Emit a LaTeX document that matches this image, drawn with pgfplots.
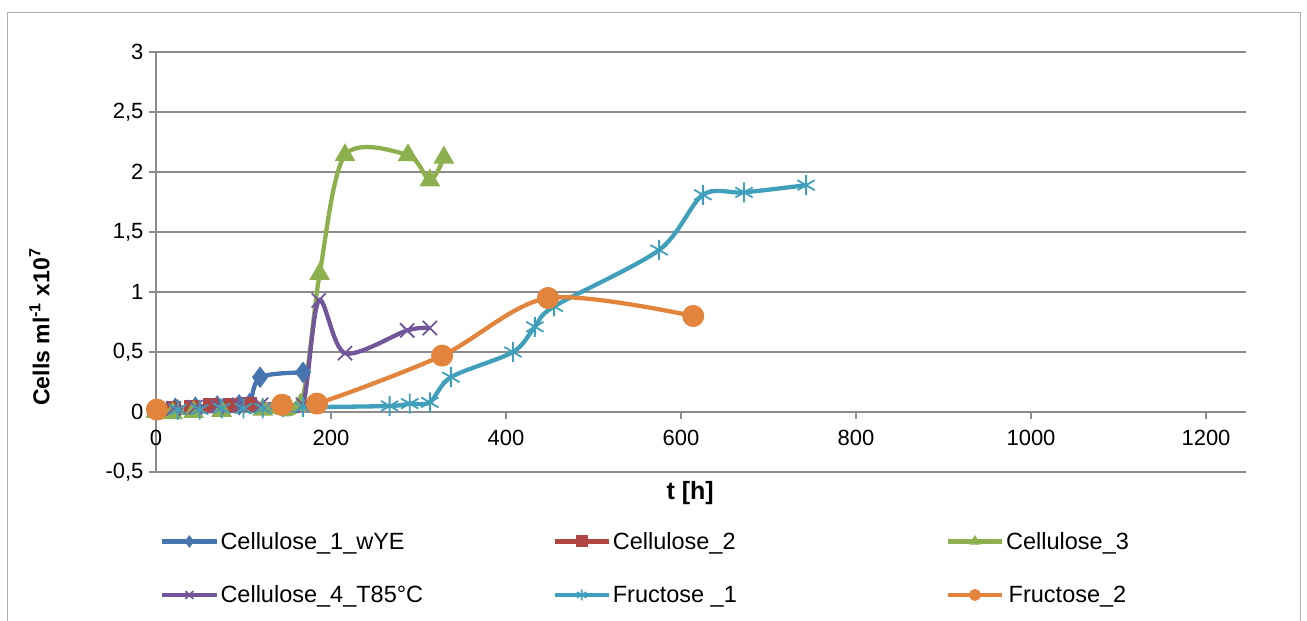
\documentclass[border=0pt]{standalone}
\usepackage{fontspec}
\setmainfont{Liberation Sans}
\usepackage{pgfplots}
\pgfplotsset{compat=1.18}
\definecolor{gridgray}{HTML}{8C8C8C}
\definecolor{cblue}{HTML}{4675B0}
\definecolor{cred}{HTML}{B04542}
\definecolor{cgreen}{HTML}{8DB04F}
\definecolor{cpurple}{HTML}{71579A}
\definecolor{ccyan}{HTML}{40A0BC}
\definecolor{corange}{HTML}{E3843C}
\begin{document}
\begin{tikzpicture}[x=1pt,y=1pt]
\useasboundingbox (0,0) rectangle (1307,621);
\draw[gridgray!70, line width=1pt] (7,-10) rectangle (1300,608);
\begin{axis}[
  at={(156pt,149pt)}, anchor=south west,
  x=0.875pt, y=120pt,
  xmin=0, xmax=1246, ymin=-0.5, ymax=3,
  clip=false,
  axis x line*=middle, axis y line*=left,
  axis line style={-, draw=gridgray, line width=1.2pt},
  hide obscured x ticks=false, hide obscured y ticks=false,
  xtick={0,200,...,1200}, ytick={-0.5,0,0.5,1,1.5,2,2.5,3},
  ymajorgrids=true, grid style={gridgray, line width=1.2pt},
  tick align=outside, major tick length=7pt,
  tick style={gridgray, line width=1.2pt},
  ticklabel style={font=\fontsize{22}{26}\selectfont},
  xticklabel style={yshift=-8pt},
  yticklabel style={xshift=-2pt},
  /pgf/number format/.cd, use comma, 1000 sep={}, assume math mode=true,
  /pgfplots/.cd,
  every axis x label/.style={at={(axis description cs:0.49,-0.05)}, anchor=center},
  every axis y label/.style={at={(axis description cs:-0.107,0.345)}, rotate=90, anchor=center},
  xlabel={\fontsize{25}{29}\selectfont\bfseries t [h]},
  ylabel={\fontsize{23}{27}\selectfont\bfseries Cells ml\textsuperscript{-1} x10\textsuperscript{7}},
  legend columns=3,
  legend style={draw=none, fill=none, inner sep=0pt,
    at={(axis description cs:0.0037,-0.138)}, anchor=north west,
    font=\fontsize{23.5}{27}\selectfont, row sep=31pt,
    /tikz/every even column/.append style={column sep=0pt}},
  legend image code/.code={\draw[mark repeat=2,mark phase=2,mark size=5.5pt] plot coordinates {(0pt,0pt) (27pt,0pt) (54pt,0pt)};},
  every axis plot/.append style={line width=4.3pt, smooth},
]
\addplot[cblue, mark=diamond*, mark size=10pt, mark options={solid, line width=1pt}] coordinates {
(0,0.02) (22,0.03) (45,0.04) (70,0.05) (95,0.06) (107,0.07) (119,0.29) (168,0.33)};
\addplot[cred, mark=square*, mark size=7pt, mark options={solid, line width=1pt}] coordinates {
(0,0.02) (20,0.03) (40,0.04) (62,0.05) (85,0.05) (107,0.06)};
\addplot[cgreen, mark=triangle*, mark size=11pt, mark options={solid, line width=1pt}] coordinates {
(0,0) (19,-0.01) (43,0) (75,0.01) (122,0.02) (165,0.06) (187,1.15) (216,2.14) (288,2.14) (313,1.93) (329,2.12)};
\addplot[cpurple, mark=x, mark size=10pt, mark options={solid, line width=1.8pt}] coordinates {
(0,0.02) (20,0.03) (45,0.04) (70,0.05) (95,0.06) (120,0.06) (145,0.07) (168,0.06) (186,0.93) (216,0.49) (287,0.68) (313,0.70)};
\addplot[ccyan, mark=asterisk, mark size=10pt, mark options={solid, line width=1.8pt}] coordinates {
(0,0.01) (25,0.02) (50,0.02) (75,0.03) (100,0.03) (122,0.03) (145,0.04) (168,0.04) (267,0.05) (290,0.07) (313,0.08) (337,0.29) (408,0.50) (433,0.71) (455,0.88) (575,1.35) (625,1.81) (672,1.83) (743,1.89)};
\addplot[corange, mark=*, mark size=10.5pt, mark options={solid, line width=1pt}] coordinates {
(1,0.02) (144,0.06) (184,0.07) (327,0.47) (448,0.95) (614,0.80)};
\legend{\makebox[330pt][l]{Cellulose\_1\_wYE},\makebox[331pt][l]{Cellulose\_2},Cellulose\_3,
\makebox[330pt][l]{Cellulose\_4\_T85°C},\makebox[331pt][l]{Fructose \_1},Fructose\_2}
\end{axis}
\end{tikzpicture}
\end{document}
